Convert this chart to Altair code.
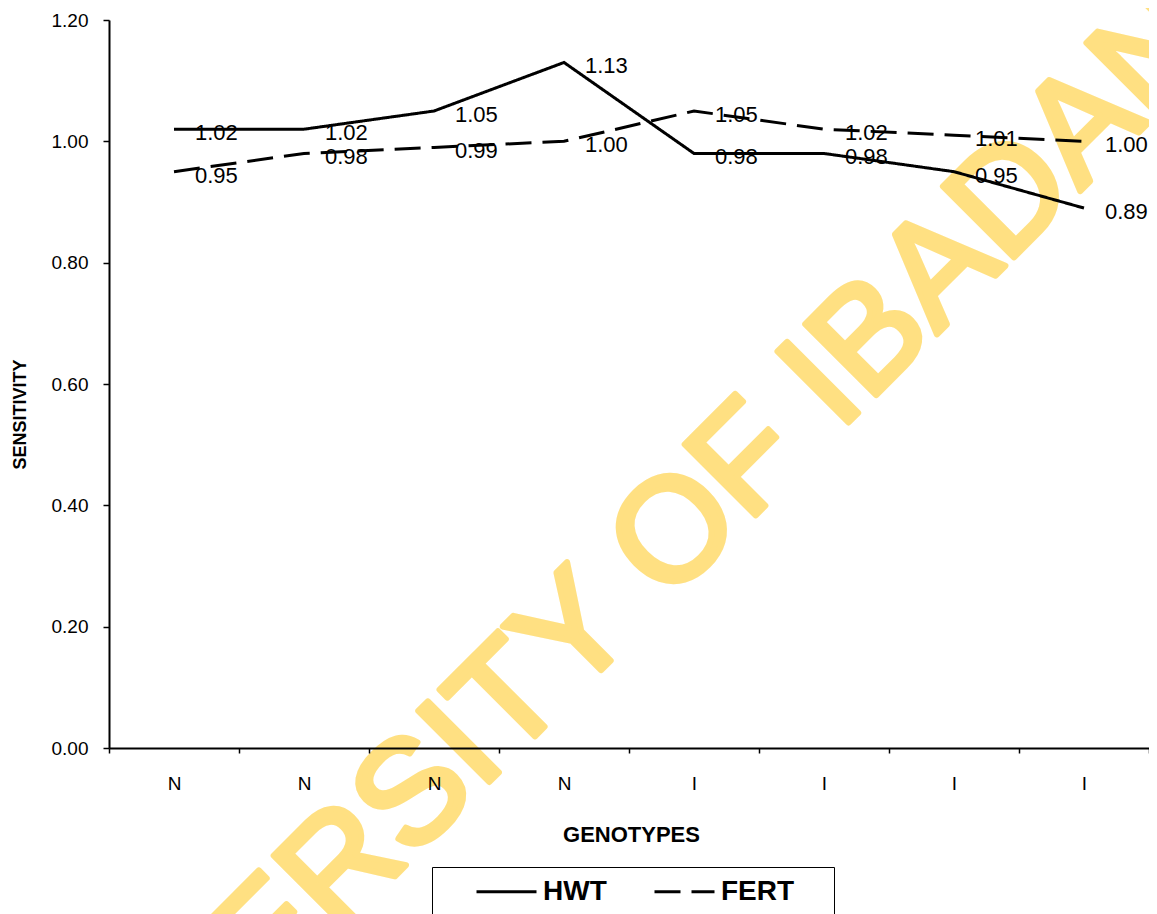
import json
import altair as alt
import pandas as pd

# ---- data ----
genotypes = ["N", "N", "N", "N", "I", "I", "I", "I"]
hwt = [1.02, 1.02, 1.05, 1.13, 0.98, 0.98, 0.95, 0.89]
fert = [0.95, 0.98, 0.99, 1.00, 1.05, 1.02, 1.01, 1.00]
series = ["HWT", "FERT"]
y_ticks = [0.0, 0.2, 0.4, 0.6, 0.8, 1.0, 1.2]
watermark = ["UNIVERSITY OF IBADAN"]

FONT = "Liberation Sans"
NBSP = "\u00a0"
ZWSP = "\u200b"

rows = []
for i, g in enumerate(genotypes):
    rows.append({"pos": i, "genotype": g, "series": "HWT", "value": hwt[i]})
    rows.append({"pos": i, "genotype": g, "series": "FERT", "value": fert[i]})
df = pd.DataFrame(rows)

label_expr = json.dumps(genotypes) + "[datum.value]"

x_enc = alt.X(
    "pos:O",
    scale=alt.Scale(type="band", paddingInner=0, paddingOuter=0),
    bandPosition=0.5,
    axis=alt.Axis(
        title="GENOTYPES",
        labelExpr=label_expr,
        labelAngle=0,
        tickBand="extent",
        tickSize=5,
        tickWidth=1.5,
        tickColor="black",
        domainColor="black",
        domainWidth=2,
        labelFontSize=19,
        labelColor="black",
        labelPadding=21,
        titleFontSize=22,
        titleFontWeight="bold",
        titleColor="black",
        titleX=522,
        titleY=93,
        titleBaseline="alphabetic",
        titleAlign="center",
        zindex=1,
    ),
)

y_enc = alt.Y(
    "value:Q",
    scale=alt.Scale(domain=[0, 1.2], nice=False, zero=True),
    axis=alt.Axis(
        values=y_ticks,
        format=".2f",
        grid=False,
        title="SENSITIVITY",
        titleFontSize=18,
        titleFontWeight="bold",
        titleColor="black",
        titleAngle=270,
        titleX=-84,
        titleY=394,
        titleAlign="center",
        titleBaseline="alphabetic",
        labelFontSize=19,
        labelColor="black",
        labelPadding=15,
        tickSize=6,
        tickWidth=1.5,
        tickColor="black",
        domainColor="black",
        domainWidth=2,
        zindex=1,
    ),
)

wm = alt.Chart(pd.DataFrame({"t": watermark})).mark_text(
    angle=315,
    fontSize=146,
    font=FONT,
    color="#FFE082",
    stroke="#FFE082",
    strokeWidth=6,
    strokeJoin="round",
    align="center",
    baseline="middle",
).encode(x=alt.value(482), y=alt.value(598), text="t:N")

lines = alt.Chart(df).mark_line(color="black", strokeWidth=3, strokeCap="butt").encode(
    x=x_enc,
    y=y_enc,
    strokeDash=alt.StrokeDash(
        "series:N",
        scale=alt.Scale(domain=series, range=[[1, 0], [26, 11]]),
        legend=alt.Legend(
            title=ZWSP,
            titleOrient="left",
            titleFontSize=28,
            titleAnchor="start",
            titlePadding=35,
            orient="none",
            legendX=323,
            legendY=847,
            direction="horizontal",
            columns=2,
            columnPadding=41,
            strokeColor="black",
            fillColor="white",
            padding=8,
            symbolType="M-1,0H3",
            symbolSize=900,
            symbolStrokeWidth=3,
            symbolStrokeColor="black",
            symbolFillColor="transparent",
            labelFont=FONT,
            labelFontSize=28,
            labelFontWeight="bold",
            labelColor="black",
            labelOffset=35,
            labelExpr="datum.label == 'FERT' ? 'FERT" + NBSP * 4 + ZWSP + "' : datum.label",
        ),
    ),
)

labels = alt.Chart(df).mark_text(
    align="left", baseline="middle", dx=21, dy=4, fontSize=22, font=FONT, color="black"
).encode(x=x_enc, y=y_enc, text=alt.Text("value:Q", format=".2f"))

chart = (
    alt.layer(wm, lines, labels)
    .properties(
        width=1040,
        height=728,
        autosize=alt.AutoSizeParams(type="none"),
        padding={"left": 101, "top": 12, "right": 0, "bottom": 166},
        background="white",
    )
    .configure_axis(labelFont=FONT, titleFont=FONT)
    .configure_legend(titleFont=FONT)
    .configure_view(strokeWidth=0)
)

chart.save("out.html", embed_options={"renderer": "svg", "actions": False})
